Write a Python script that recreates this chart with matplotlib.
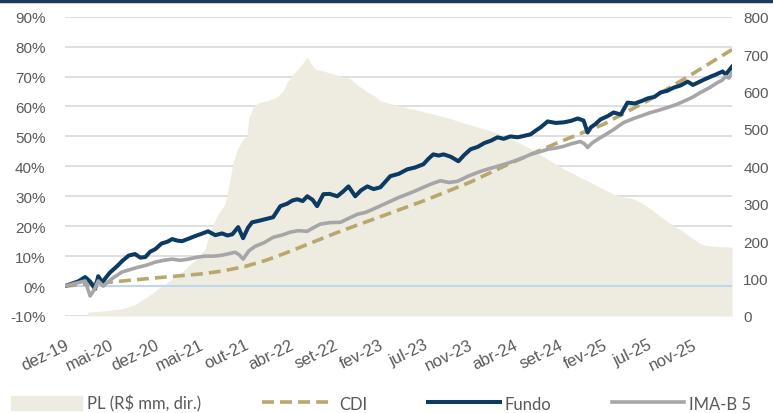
import matplotlib
matplotlib.use("Agg")
import matplotlib.pyplot as plt
from matplotlib.lines import Line2D
from matplotlib.patches import Patch

# x positions are trading-day indexes (tick label every 100)
tick_labels = ["dez-19", "mai-20", "dez-20", "mai-21", "out-21", "abr-22", "set-22",
               "fev-23", "jul-23", "nov-23", "abr-24", "set-24", "fev-25", "jul-25", "nov-25"]

fund_x = [0, 15, 30, 45, 56, 67, 74, 83, 100, 115,
          127, 142, 156, 168, 179, 190, 201, 215, 228, 239,
          250, 261, 275, 290, 305, 319, 335, 350, 362, 373,
          386, 397, 408, 417, 432, 448, 464, 480, 495, 507,
          518, 530, 540, 552, 562, 576, 590, 607, 620, 632,
          647, 660, 674, 688, 703, 715, 725, 744, 763, 780,
          799, 810, 821, 833, 844, 860, 877, 890, 904, 920,
          935, 950, 964, 978, 993, 1009, 1024, 1038, 1050, 1060,
          1076, 1094, 1112, 1128, 1143, 1156, 1165, 1172, 1183, 1194,
          1210, 1223, 1239, 1254, 1270, 1285, 1299, 1314, 1328, 1342,
          1357, 1372, 1388, 1400, 1411, 1425, 1440, 1453, 1466, 1473,
          1480, 1487]
fund_y = [0.0, 0.8, 1.6, 3.0, 1.5, -1.0, 3.3, 1.3, 4.5, 6.5,
          8.3, 10.2, 10.7, 9.5, 9.7, 11.5, 12.3, 14.2, 14.8, 15.7,
          15.2, 15.0, 15.8, 16.7, 17.5, 18.3, 17.0, 17.6, 16.9, 17.3,
          19.7, 16.0, 19.5, 21.3, 21.8, 22.4, 23.0, 26.7, 27.5, 28.6,
          29.0, 28.4, 30.0, 28.8, 26.7, 30.7, 30.8, 30.0, 31.6, 33.3,
          30.0, 32.0, 33.3, 32.4, 33.0, 35.0, 36.7, 37.5, 39.0, 39.6,
          40.7, 42.5, 44.0, 43.6, 44.0, 43.2, 41.7, 43.8, 45.7, 46.5,
          47.8, 48.6, 49.7, 49.2, 50.0, 49.7, 50.2, 50.7, 52.0, 53.0,
          55.0, 54.5, 54.7, 55.2, 56.0, 55.3, 51.3, 53.0, 54.2, 55.7,
          56.8, 58.0, 57.3, 61.3, 61.0, 61.8, 62.7, 63.2, 64.7, 65.2,
          66.3, 67.0, 68.3, 67.2, 68.0, 69.0, 70.0, 70.8, 71.7, 70.7,
          72.0, 73.3]

imab_x = [0, 20, 45, 56, 66, 74, 85, 105, 127, 145,
          163, 182, 201, 220, 239, 257, 275, 293, 312, 331,
          350, 365, 379, 388, 397, 410, 424, 444, 464, 483,
          502, 520, 540, 555, 569, 590, 614, 632, 652, 670,
          687, 706, 725, 744, 763, 781, 799, 818, 837, 856,
          875, 900, 926, 945, 964, 982, 1000, 1020, 1038, 1057,
          1076, 1094, 1112, 1130, 1149, 1158, 1165, 1175, 1187, 1205,
          1223, 1245, 1268, 1287, 1306, 1325, 1344, 1362, 1379, 1398,
          1417, 1436, 1455, 1465, 1473, 1480, 1487]
imab_y = [0.0, 0.8, 1.7, -3.3, -1.0, 1.7, 0.0, 2.5, 4.7, 5.5,
          6.3, 7.0, 8.0, 8.6, 9.0, 8.6, 9.0, 9.6, 10.0, 10.0,
          10.3, 10.8, 11.3, 10.5, 9.0, 11.8, 13.3, 14.5, 16.3, 17.0,
          18.0, 18.5, 18.3, 19.6, 20.7, 21.2, 21.3, 22.6, 24.0, 24.6,
          25.7, 27.0, 28.3, 29.6, 30.7, 31.8, 33.0, 34.2, 35.2, 34.6,
          35.0, 36.8, 38.3, 39.2, 40.0, 40.8, 41.7, 42.8, 44.0, 44.8,
          45.7, 46.1, 46.7, 47.6, 48.3, 47.5, 46.3, 47.8, 49.0, 50.6,
          52.3, 54.6, 56.0, 57.0, 58.0, 58.8, 59.7, 60.6, 61.7, 63.0,
          64.7, 66.2, 68.0, 68.8, 70.0, 69.5, 71.3]

cdi_x = [0, 100, 200, 300, 350, 400, 450, 500, 550, 600,
         650, 700, 800, 900, 1000, 1100, 1200, 1300, 1400, 1487]
cdi_y = [0.0, 1.3, 2.7, 4.0, 5.0, 6.5, 8.7, 11.5, 14.5, 17.5,
         20.3, 23.0, 28.5, 34.5, 41.5, 48.0, 54.0, 62.0, 71.0, 79.0]

pl_x = [50, 90, 127, 155, 185, 210, 239, 258, 275, 295,
        312, 324, 340, 357, 367, 375, 384, 397, 405, 410,
        420, 435, 451, 462, 473, 485, 496, 510, 525, 540,
        548, 558, 575, 598, 617, 636, 655, 674, 690, 703,
        725, 748, 785, 821, 860, 897, 935, 971, 1005, 1038,
        1075, 1112, 1150, 1187, 1205, 1223, 1245, 1268, 1288, 1306,
        1325, 1344, 1362, 1379, 1398, 1417, 1430, 1440, 1465, 1487]
pl_y = [10, 14, 19, 30, 53, 75, 99, 115, 134, 155,
        179, 225, 270, 300, 360, 412, 446, 473, 480, 530,
        561, 572, 575, 580, 585, 600, 626, 648, 668, 692,
        675, 660, 655, 647, 640, 634, 615, 599, 588, 575,
        568, 561, 550, 540, 527, 513, 500, 487, 468, 447,
        420, 393, 370, 348, 336, 326, 318, 313, 300, 286,
        268, 251, 238, 225, 208, 193, 189, 187, 185, 184]

C_FUND = "#0B3A63"
C_IMAB = "#A6A6A8"
C_CDI = "#B9A76E"
C_PL = "#EEECE1"
C_TXT = "#595959"
CDI_DASH = (0, (3.3, 1.7))


def pl_to_pct(v):
    return -10 + v / 8.0


def pct_to_pl(p):
    return (p + 10) * 8.0


def main():
    plt.rcParams["font.family"] = ["Liberation Sans", "DejaVu Sans"]
    fig = plt.figure(figsize=(7.73, 4.14), dpi=100)
    ax = fig.add_axes([0.0841, 0.2343, 0.8629, 0.7230])

    ax.fill_between(pl_x, -10, [pl_to_pct(v) for v in pl_y], color=C_PL, lw=0, zorder=1)
    ax.axhline(0, color="#BDD7EE", lw=1.5, zorder=2)
    ax.plot(cdi_x, cdi_y, color=C_CDI, lw=2.6, ls=CDI_DASH, zorder=3)
    ax.plot(fund_x, fund_y, color=C_FUND, lw=2.9, zorder=4)
    ax.plot(imab_x, imab_y, color=C_IMAB, lw=2.6, zorder=5)

    ax.set_xlim(0, 1487)
    ax.set_ylim(-10, 90)
    ax.set_yticks(range(-10, 91, 10))
    ax.set_yticklabels([f"{v}%" for v in range(-10, 91, 10)])
    ax.set_xticks(range(0, 1500, 100))
    ax.set_xticklabels(tick_labels, rotation=26, ha="right", va="top",
                       rotation_mode="anchor")
    ax.set_axisbelow(True)
    ax.grid(axis="y", color="#D9D9D9", lw=1.2)
    for s in ax.spines.values():
        s.set_visible(False)
    ax.tick_params(axis="y", length=0, pad=14, labelsize=11, labelcolor=C_TXT)
    ax.tick_params(axis="x", length=0, pad=15, labelsize=12, labelcolor=C_TXT)

    sec = ax.secondary_yaxis("right", functions=(pct_to_pl, pl_to_pct))
    sec.set_yticks(range(0, 801, 100))
    sec.spines["right"].set_visible(False)
    sec.tick_params(length=0, pad=8, labelsize=11, labelcolor=C_TXT)

    # top border
    fig.add_artist(Line2D([0, 1], [0.996, 0.996], color="#1B3A5F", lw=2.5,
                          transform=fig.transFigure))

    handles = [Patch(color=C_PL),
               Line2D([], [], color=C_CDI, lw=2.6, ls=CDI_DASH),
               Line2D([], [], color=C_FUND, lw=2.9),
               Line2D([], [], color=C_IMAB, lw=2.6)]
    labels = ["PL (R$ mm, dir.)", "CDI", "Fundo", "IMA-B 5"]
    fig.legend(handles, labels, loc="center left", bbox_to_anchor=(0.014, 0.024),
               ncol=4, frameon=False, borderpad=0, borderaxespad=0,
               handlelength=4.3, handleheight=0.9, handletextpad=0.3,
               columnspacing=3.65,
               prop={"family": ["Lato", "DejaVu Sans"], "size": 12},
               labelcolor=C_TXT)

    fig.savefig("out.png", dpi=100)


if __name__ == "__main__":
    main()
